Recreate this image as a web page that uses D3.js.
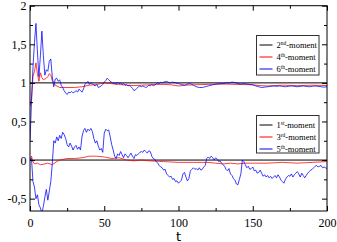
<!DOCTYPE html>
<html><head><meta charset="utf-8">
<script src="https://cdn.jsdelivr.net/npm/d3@7"></script>
<style>body{margin:0;background:#fff;}svg{display:block;}</style>
</head><body>
<svg id="c" width="337" height="242"></svg>
<script>
// ---- data ----
const xTicks = [0, 50, 100, 150, 200];
const yTicks = [-0.5, 0, 0.5, 1, 1.5, 2];
const yTickLabels = ["-0,5", "0", "0,5", "1", "1,5", "2"];

// 1st and 2nd moments (constant references)
const m1 = [[0, 0], [200, 0]];
const m2 = [[0, 1], [200, 1]];

// 3rd moment
const m3 = [[0,0],[1,0.05],[2,-0.02],[3,-0.05],[5,-0.04],[7,-0.06],[10,-0.05],[12,-0.04],[15,-0.06],[18,-0.02],[20,0.0],[25,0.02],[30,0.02],[35,0.03],[40,0.05],[45,0.05],[50,0.04],[55,0.02],[60,0.03],[65,0.0],[70,-0.01],[75,0.0],[80,-0.01],[90,-0.02],[100,-0.03],[110,-0.03],[120,-0.03],[125,-0.04],[130,-0.05],[135,-0.04],[140,-0.05],[145,-0.04],[150,-0.04],[160,-0.04],[170,-0.03],[180,-0.04],[190,-0.03],[200,-0.02]];

// 4th moment
const m4 = [[0,0.70],[1,0.80],[2,1.08],[3,1.15],[4,1.26],[5,1.12],[6,1.02],[7,1.13],[8,1.07],[9,1.04],[10,1.05],[11,1.06],[12,1.08],[13,1.12],[14,1.10],[15,1.03],[17,0.97],[20,0.94],[25,0.94],[30,0.94],[35,0.95],[40,0.97],[45,0.98],[50,1.0],[55,0.99],[60,0.98],[65,0.97],[70,0.965],[75,0.97],[80,0.975],[85,0.98],[90,0.98],[95,0.975],[100,0.96],[105,0.97],[110,0.975],[120,0.98],[130,0.985],[140,0.98],[150,0.975],[155,0.965],[160,0.96],[170,0.97],[180,0.965],[190,0.97],[200,0.965]];

// 5th moment
const m5 = [[0,0],[1,0.02],[2,-0.28],[3,-0.35],[4,-0.50],[5,-0.45],[6,-0.58],[7,-0.62],[8,-0.69],[9,-0.60],[10,-0.48],[11,-0.38],[12,-0.52],[13,-0.40],[14,-0.28],[15,-0.05],[16,0.25],[17,0.22],[18,0.30],[19,0.25],[20,0.32],[21,0.28],[22,0.36],[23,0.33],[24,0.28],[25,0.20],[26,0.17],[27,0.22],[28,0.18],[29,0.13],[30,0.17],[31,0.19],[32,0.14],[33,0.17],[34,0.13],[35,0.30],[36,0.38],[37,0.41],[38,0.36],[39,0.40],[40,0.38],[41,0.41],[42,0.37],[43,0.28],[44,0.22],[45,0.25],[46,0.18],[47,0.13],[48,0.15],[49,0.10],[50,0.35],[51,0.40],[52,0.38],[53,0.39],[54,0.30],[55,0.20],[56,0.13],[57,0.05],[58,0.02],[59,0.08],[60,0.06],[61,0.11],[62,0.07],[63,0.03],[64,0.08],[65,0.06],[66,0.03],[67,0.06],[68,0.09],[69,0.05],[70,0.02],[71,0.07],[72,0.06],[73,0.08],[74,0.10],[75,0.11],[76,0.10],[77,0.13],[78,0.11],[79,0.09],[80,0.12],[81,0.11],[82,0.05],[83,0.02],[84,0.01],[85,-0.02],[86,-0.04],[87,-0.07],[88,-0.09],[89,-0.10],[90,-0.13],[91,-0.12],[92,-0.18],[93,-0.20],[94,-0.22],[95,-0.21],[96,-0.25],[97,-0.24],[98,-0.28],[99,-0.27],[100,-0.30],[101,-0.28],[102,-0.26],[103,-0.18],[104,-0.16],[105,-0.22],[106,-0.27],[107,-0.24],[108,-0.14],[109,-0.12],[110,-0.10],[111,-0.12],[112,-0.11],[113,-0.13],[114,-0.10],[115,-0.13],[116,-0.12],[117,-0.09],[118,-0.07],[119,0.02],[120,0.04],[121,0.02],[122,0.05],[123,0.03],[124,0.00],[125,0.03],[126,0.01],[127,-0.02],[128,-0.01],[129,-0.04],[130,-0.06],[131,-0.08],[132,-0.12],[133,-0.14],[134,-0.11],[135,-0.18],[136,-0.20],[137,-0.24],[138,-0.26],[139,-0.31],[140,-0.32],[141,-0.25],[142,-0.18],[143,0.00],[144,-0.02],[145,-0.06],[146,-0.10],[147,-0.08],[148,-0.12],[149,-0.11],[150,-0.09],[151,-0.14],[152,-0.13],[153,-0.17],[154,-0.16],[155,-0.13],[156,-0.17],[157,-0.21],[158,-0.19],[159,-0.22],[160,-0.20],[161,-0.23],[162,-0.21],[163,-0.24],[164,-0.22],[165,-0.20],[166,-0.23],[167,-0.19],[168,-0.22],[169,-0.26],[170,-0.28],[171,-0.30],[172,-0.25],[173,-0.22],[174,-0.20],[175,-0.21],[176,-0.18],[177,-0.22],[178,-0.19],[179,-0.17],[180,-0.15],[181,-0.18],[182,-0.22],[183,-0.17],[184,-0.20],[185,-0.23],[186,-0.20],[187,-0.17],[188,-0.15],[189,-0.13],[190,-0.12],[191,-0.10],[192,-0.08],[193,-0.07],[194,-0.09],[195,-0.08],[196,-0.07],[197,-0.10],[198,-0.09],[199,-0.10],[200,-0.11]];

// 6th moment
const m6 = [[0,0.25],[1,0.75],[2,1.20],[3,1.52],[4,1.77],[5,1.40],[6,1.08],[7,1.35],[8,1.67],[9,1.35],[10,1.10],[11,1.17],[12,1.15],[13,1.28],[14,1.31],[15,1.08],[16,0.95],[17,1.05],[18,1.06],[19,1.02],[20,1.04],[21,0.97],[22,0.94],[23,0.90],[24,0.87],[25,0.85],[26,0.88],[27,0.87],[28,0.89],[29,0.87],[30,0.88],[31,0.90],[32,0.88],[33,0.92],[34,0.90],[35,0.88],[36,0.92],[37,0.98],[38,1.00],[39,1.02],[40,0.98],[41,1.00],[42,0.99],[43,0.97],[44,0.96],[45,0.98],[46,0.94],[47,0.95],[48,0.96],[49,0.98],[50,1.01],[51,1.03],[52,1.06],[53,1.04],[54,1.02],[55,1.01],[56,0.99],[57,1.00],[58,0.98],[59,1.01],[60,0.99],[61,1.00],[62,0.98],[63,0.99],[64,0.97],[65,0.98],[66,0.96],[67,0.97],[68,0.95],[69,0.93],[70,0.90],[71,0.91],[72,0.93],[73,0.95],[74,0.96],[75,0.95],[76,0.96],[77,0.95],[78,0.94],[79,0.95],[80,0.97],[81,0.96],[82,0.98],[83,0.96],[84,0.97],[85,0.99],[86,1.00],[87,0.99],[88,1.01],[89,1.00],[90,1.01],[92,1.02],[94,1.00],[96,1.01],[98,1.00],[100,0.99],[102,0.98],[104,0.97],[106,0.985],[108,0.99],[110,0.97],[112,0.95],[114,0.94],[116,0.94],[118,0.95],[120,0.96],[122,0.97],[124,0.98],[126,0.985],[128,0.99],[130,0.99],[132,1.00],[134,1.00],[136,1.01],[138,1.005],[140,0.99],[142,0.985],[144,0.99],[146,0.985],[148,0.98],[150,0.975],[152,0.96],[154,0.95],[156,0.94],[158,0.945],[160,0.95],[162,0.955],[164,0.96],[166,0.955],[168,0.96],[170,0.955],[172,0.95],[174,0.955],[176,0.96],[178,0.955],[180,0.95],[182,0.955],[184,0.96],[186,0.955],[188,0.95],[190,0.955],[192,0.96],[194,0.955],[196,0.95],[198,0.945],[200,0.95]];

const legendUpper = [["2","nd"],["4","th"],["6","th"]];
const legendLower = [["1","st"],["3","rd"],["5","th"]];
const colors = ["#000000", "#ff0000", "#0000ff"];

// ---- drawing ----
const svg = d3.select("#c");
const L = 30, R = 327, T = 5.7, B = 211;
const x = d3.scaleLinear().domain([0, 200]).range([L, R]);
const y = d3.scaleLinear().domain([-0.66, 2]).range([B, T]);

const serif = "'Liberation Serif', 'Times New Roman', serif";

svg.append("clipPath").attr("id", "pc").append("rect")
  .attr("x", L).attr("y", T).attr("width", R - L).attr("height", B - T);

const line = d3.line().x(d => x(d[0])).y(d => y(d[1]));
const g = svg.append("g").attr("clip-path", "url(#pc)");
[[m2, 0], [m1, 0], [m4, 1], [m3, 1], [m6, 2], [m5, 2]].forEach(([data, ci]) => {
  g.append("path").datum(data).attr("d", line)
    .attr("fill", "none").attr("stroke", colors[ci]).attr("stroke-width", ci === 0 ? 1 : 0.9)
    .attr("stroke-opacity", ci === 0 ? 1 : 0.85)
    .attr("stroke-linejoin", "round");
});

const minorX = d3.range(25, 200, 50);
const minorY = d3.range(-0.25, 2, 0.5);

const gx = svg.append("g").attr("transform", `translate(0,${B})`)
  .call(d3.axisBottom(x).tickValues(xTicks).tickSize(-5).tickSizeOuter(0).tickFormat(d3.format("d")));
gx.select(".domain").remove();
gx.selectAll("text").style("font-family", serif).style("font-size", "12px").attr("fill", "#000").attr("dy", 0).attr("y", 15.5);
const gxm = svg.append("g").attr("transform", `translate(0,${B})`)
  .call(d3.axisBottom(x).tickValues(minorX).tickSize(-3).tickSizeOuter(0).tickFormat(""));
gxm.select(".domain").remove();

const gxt = svg.append("g").attr("transform", `translate(0,${T})`)
  .call(d3.axisTop(x).tickValues(xTicks).tickSize(-5).tickSizeOuter(0).tickFormat(""));
gxt.select(".domain").remove();
const gxtm = svg.append("g").attr("transform", `translate(0,${T})`)
  .call(d3.axisTop(x).tickValues(minorX).tickSize(-3).tickSizeOuter(0).tickFormat(""));
gxtm.select(".domain").remove();

const gy = svg.append("g").attr("transform", `translate(${L},0)`)
  .call(d3.axisLeft(y).tickValues(yTicks).tickSize(-5).tickSizeOuter(0).tickFormat((d, i) => yTickLabels[i]));
gy.select(".domain").remove();
gy.selectAll("text").style("font-family", serif).style("font-size", "12px").attr("fill", "#000").attr("x", -3.5).attr("dy", "0.33em");
const gym = svg.append("g").attr("transform", `translate(${L},0)`)
  .call(d3.axisLeft(y).tickValues(minorY).tickSize(-3).tickSizeOuter(0).tickFormat(""));
gym.select(".domain").remove();

const gyr = svg.append("g").attr("transform", `translate(${R},0)`)
  .call(d3.axisRight(y).tickValues(yTicks).tickSize(-5).tickSizeOuter(0).tickFormat(""));
gyr.select(".domain").remove();
const gyrm = svg.append("g").attr("transform", `translate(${R},0)`)
  .call(d3.axisRight(y).tickValues(minorY).tickSize(-3).tickSizeOuter(0).tickFormat(""));
gyrm.select(".domain").remove();

svg.selectAll(".tick line").attr("stroke", "#000");

// frame
svg.append("rect").attr("x", L).attr("y", T).attr("width", R - L).attr("height", B - T)
  .attr("fill", "none").attr("stroke", "#000").attr("stroke-width", 1);

// x axis title
svg.append("text").attr("x", x(100)).attr("y", 240.5).attr("text-anchor", "middle")
  .style("font-family", "'DejaVu Sans', sans-serif").style("font-size", "13px").text("t");

// legends
function legend(items, bx, by, bw, bh, rows) {
  const lg = svg.append("g");
  lg.append("rect").attr("x", bx).attr("y", by).attr("width", bw).attr("height", bh)
    .attr("fill", "#fff").attr("stroke", "#333").attr("stroke-width", 1);
  items.forEach((it, i) => {
    const ry = rows[i];
    lg.append("line").attr("x1", bx + 3).attr("x2", bx + 16).attr("y1", ry).attr("y2", ry)
      .attr("stroke", colors[i]).attr("stroke-width", 1);
    const t = lg.append("text").attr("x", bx + 20).attr("y", ry + 3)
      .style("font-family", serif).style("font-size", "8.5px").attr("fill", "#000");
    t.append("tspan").text(it[0]);
    t.append("tspan").style("font-size", "5.5px").attr("dy", -3.5).text(it[1]);
    t.append("tspan").attr("dy", 3.5).text("-moment");
  });
}
legend(legendUpper, 256.5, 35.5, 62.5, 39.5, [45, 57, 69]);
legend(legendLower, 256.5, 115.5, 62.5, 37.5, [125, 137, 149]);
</script>
</body></html>
